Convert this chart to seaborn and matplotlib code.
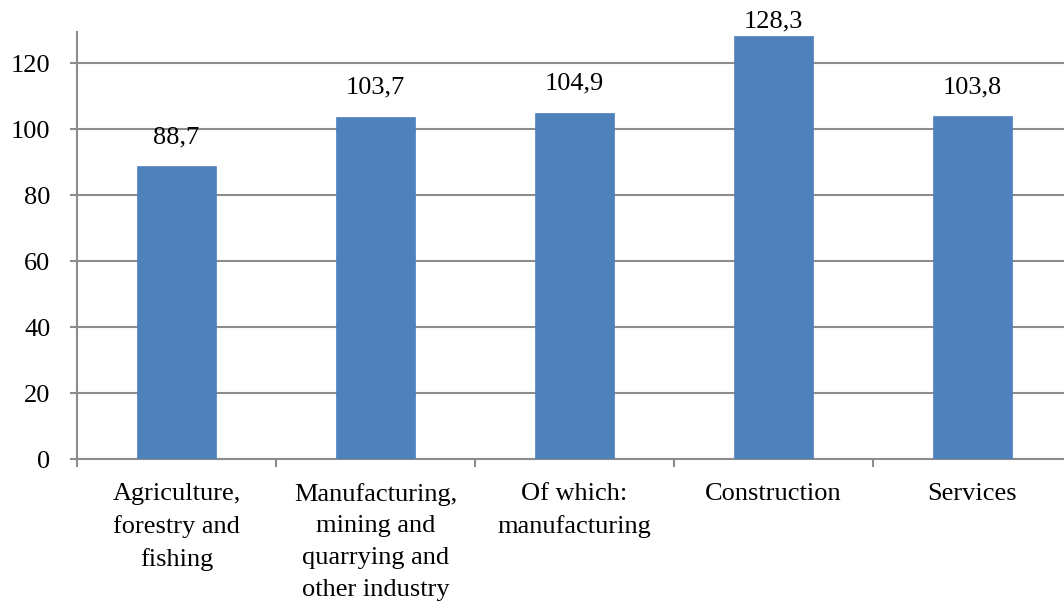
import matplotlib
matplotlib.use("Agg")
import matplotlib.pyplot as plt
import seaborn as sns
import pandas as pd

categories = ["Agriculture,\nforestry and\nfishing",
              "Manufacturing,\nmining and\nquarrying and\nother industry",
              "Of which:\nmanufacturing",
              "Construction",
              "Services"]
values = [88.7, 103.7, 104.9, 128.3, 103.8]
value_labels = ["88,7", "103,7", "104,9", "128,3", "103,8"]
yticks = [0, 20, 40, 60, 80, 100, 120]

sns.set_theme(style="white")
plt.rcParams['font.family'] = ['Liberation Serif', 'DejaVu Serif']

df = pd.DataFrame({"category": categories, "value": values})

W, H = 1064, 605
fig = plt.figure(figsize=(W / 100, H / 100), dpi=100)
ax = fig.add_axes([77 / W, 1 - 459 / H, (1072 - 77) / W, (459 - 32) / H])

sns.barplot(data=df, x="category", y="value", color="#4F81BD", width=0.4,
            saturation=1, ax=ax, zorder=3, edgecolor="#4F81BD", linewidth=0.5)

ax.set_ylim(0, 129.4)
ax.set_xlim(-0.5, len(categories) - 0.5)
ax.set_yticks(yticks)
ax.set_yticklabels([str(t) for t in yticks], fontsize=19, color="#000000")
ax.yaxis.grid(True, color="#8c8c8c", linewidth=1.5, zorder=0)
ax.set_axisbelow(True)
ax.set_xlabel("")
ax.set_ylabel("")

for s in ["top", "right"]:
    ax.spines[s].set_visible(False)
for s in ["left", "bottom"]:
    ax.spines[s].set_color("#8c8c8c")
    ax.spines[s].set_linewidth(1.5)

ax.tick_params(axis="y", which="major", length=5, width=1.5, color="#8c8c8c",
               direction="out", left=True, pad=14)
ax.set_xticks(range(len(categories)))
ax.set_xticklabels(categories, fontsize=19, linespacing=1.58, va="top",
                   color="#000000")
ax.tick_params(axis="x", which="major", length=0, pad=17)
ax.set_xticks([i - 0.5 for i in range(len(categories) + 1)], minor=True)
ax.tick_params(axis="x", which="minor", length=6, width=1.5, color="#8c8c8c",
               direction="out", bottom=True)

for i, (v, lab) in enumerate(zip(values, value_labels)):
    off = 18 if v < 120 else 3
    ax.annotate(lab, xy=(i, v), xytext=(0, off), textcoords="offset pixels",
                ha="center", va="bottom", fontsize=19, color="#000000",
                annotation_clip=False)

fig.savefig("out.png", dpi=100)
